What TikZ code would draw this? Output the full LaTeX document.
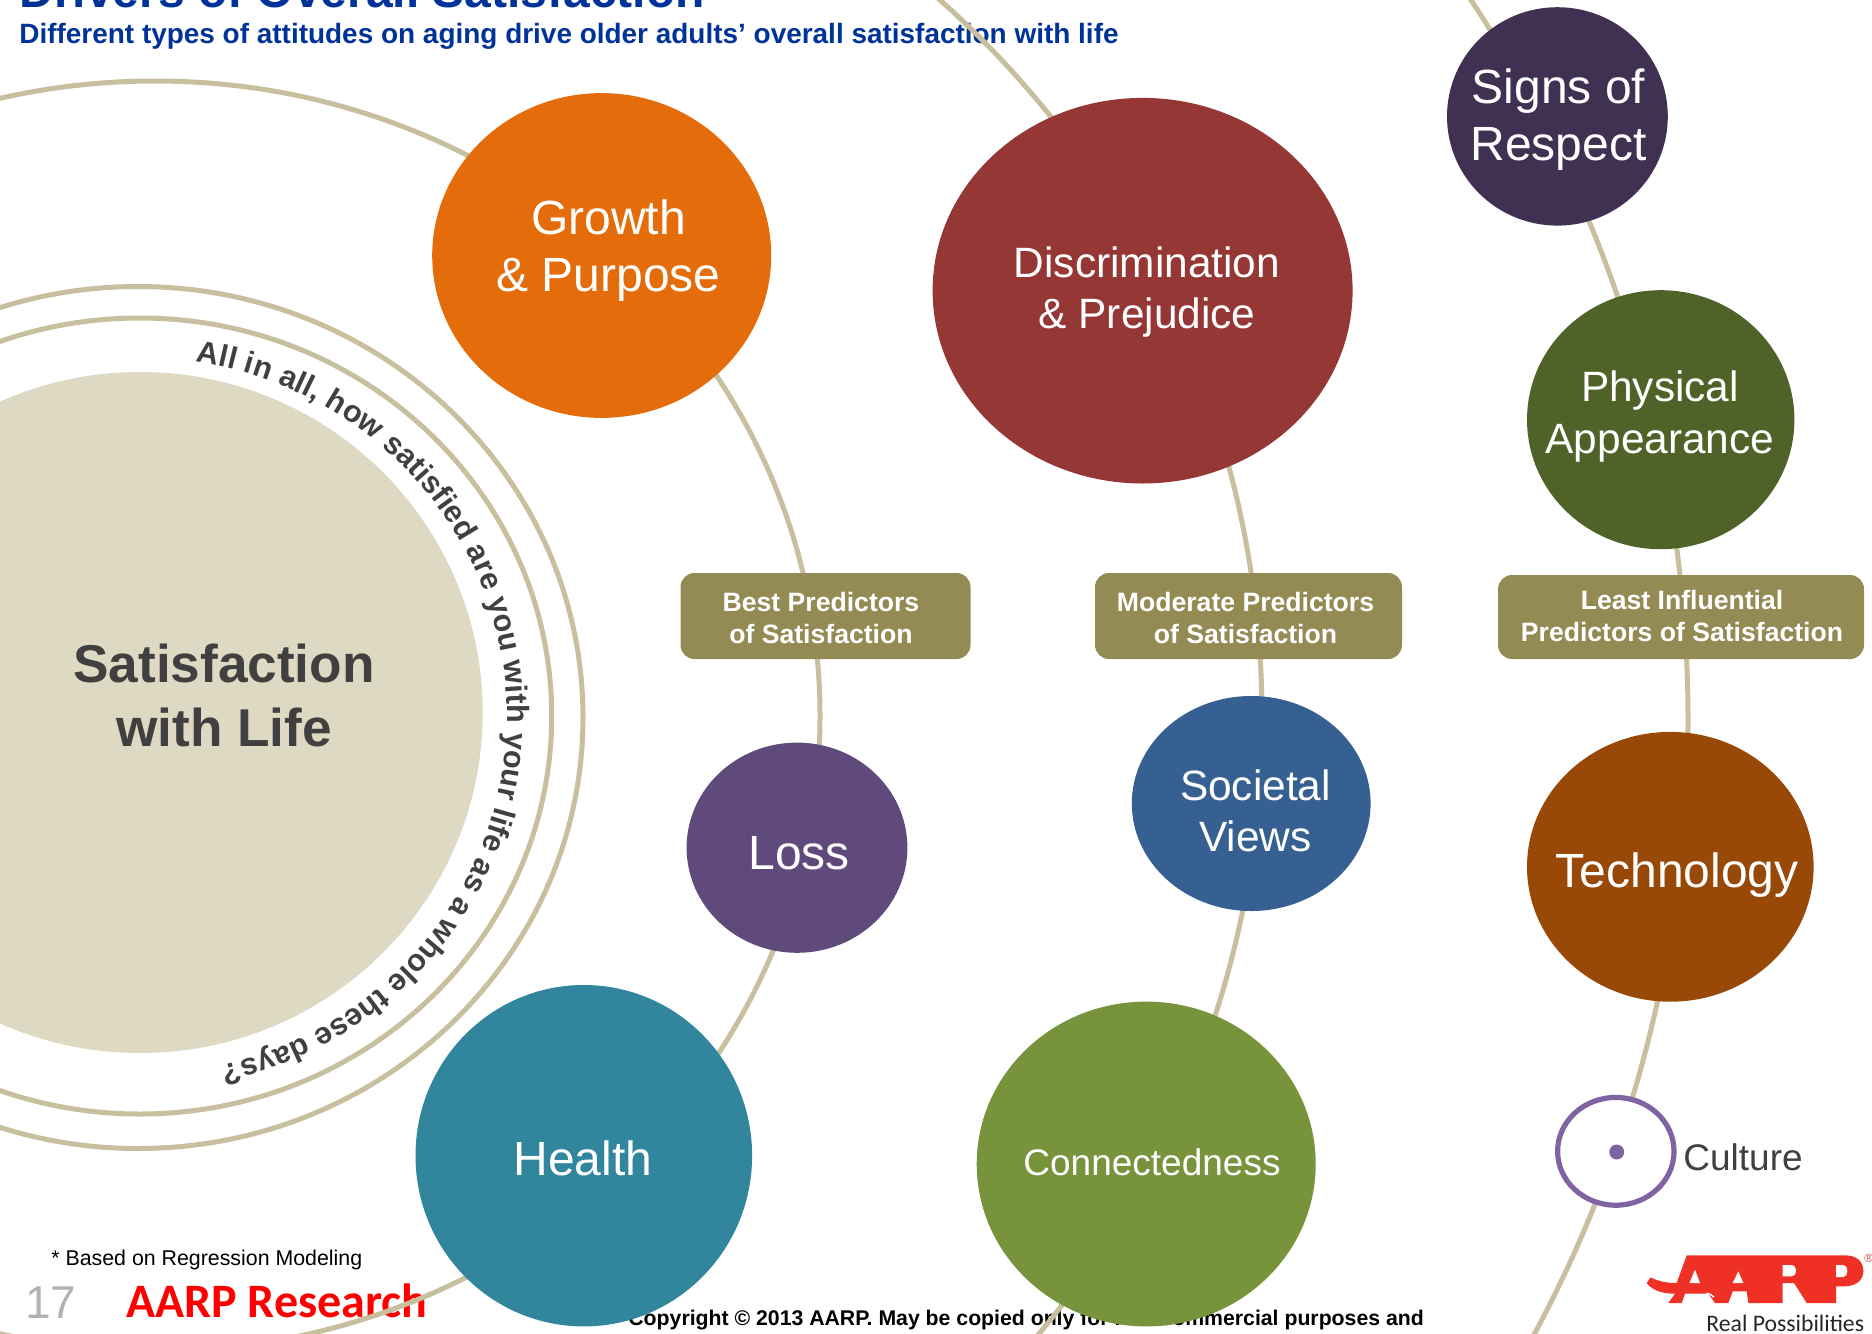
\documentclass[tikz,border=0pt]{standalone}
\usepackage{fontspec}
\setmainfont{Liberation Sans}
\newfontfamily\carl{Carlito}
\usetikzlibrary{shapes.geometric,decorations.text}
\definecolor{ringc}{HTML}{C7BF9D}
\definecolor{innerc}{HTML}{DDD9C3}
\definecolor{boxc}{HTML}{948A54}
\definecolor{inkc}{HTML}{404040}
\definecolor{titlec}{HTML}{003399}
\definecolor{logoc}{HTML}{EE3124}
\definecolor{culturec}{HTML}{8064A2}
\newcommand{\fsz}[2]{\fontsize{#1}{#2}\selectfont}
\tikzset{
  ell/.style={ellipse,inner sep=0pt,outer sep=0pt},
  ring/.style={ell,draw=ringc,line width=2.5pt},
  blob/.style={ell},
  wtext/.style={text=white,align=center,inner sep=0pt},
  boxrect/.style={rectangle,rounded corners=7pt,fill=boxc,inner sep=0pt,outer sep=0pt},
  boxtext/.style={text=white,align=center,inner sep=0pt,font=\bfseries\fsz{13.3}{16}},
  plain/.style={inner sep=0pt,anchor=base west},
}
\begin{document}
\begin{tikzpicture}[x=0.5pt,y=-0.5pt]
\useasboundingbox (0,0) rectangle (1872,1333);
\fill[white] (0,0) rectangle (1872,1333);
\clip (0,0) rectangle (1872,1333);
% texts under the lines and circles
\node[plain,text=titlec,font=\bfseries\fsz{24}{28}] (title) at (19,7.5) {Drivers of Overall Satisfaction};
\node[plain,text=titlec,font=\bfseries\fsz{13.97}{16}] (subtitle) at (19,43.5) {Different types of attitudes on aging drive older adults’ overall satisfaction with life};
\node[plain,text=black,font=\fsz{10.67}{12}] (note) at (51,1265) {* Based on Regression Modeling};
\node[plain,text=black!30,font=\fsz{23}{26}] (page) at (25,1318) {17};
\node[plain,text=red,font=\carl\bfseries\fsz{24}{28}] (research) at (126,1317) {AARP Research};
\node[plain,text=black,font=\bfseries\fsz{10.62}{12}] (copy) at (628,1325.5) {Copyright © 2013 AARP. May be copied only for non-commercial purposes and};
% big arcs
\node[ring,minimum width=665pt,minimum height=635pt] (arcA) at (155,716) {};
\node[ring,minimum width=958pt,minimum height=960pt] (arcB) at (304,718) {};
\node[ring,minimum width=1298pt,minimum height=1300pt] (arcC) at (390,720) {};
% centre
\node[ring,minimum width=445pt,minimum height=431pt] (ringO) at (138,717.5) {};
\node[ring,minimum width=412pt,minimum height=398pt] (ringI) at (139.7,716) {};
\node[ell,fill=innerc,minimum width=342.7pt,minimum height=340.5pt] (core) at (140,712.5) {};
\node[text=inkc,align=center,inner sep=0pt,font=\bfseries\fsz{26.6}{31.7}] (coreT) at (224,695.5) {Satisfaction\\with Life};
\coordinate (sweepstart) at ({138+369*cos(81)},{716-359*sin(81)});
\path[decorate,decoration={text along path,text align={fit to path},
  text={|\bfseries\fsz{15.3}{18}\color{inkc}|All in all, how satisfied are you with your life as a whole these days?}}]
  (sweepstart) arc[start angle=81,end angle=-77,x radius=184.5pt,y radius=179.5pt];
% circles
\node[blob,fill={rgb,255:red,228;green,108;blue,10},minimum width=169.5pt,minimum height=162.4pt] (growth) at (601.7,255.5) {};
\node[blob,fill={rgb,255:red,149;green,55;blue,53},minimum width=210pt,minimum height=192.8pt] (discr) at (1142.6,290.7) {};
\node[blob,fill={rgb,255:red,64;green,49;blue,82},minimum width=110.4pt,minimum height=109.2pt] (signs) at (1557.4,116.4) {};
\node[blob,fill={rgb,255:red,79;green,98;blue,40},minimum width=133.7pt,minimum height=129.5pt] (phys) at (1660.7,419.7) {};
\node[blob,fill={rgb,255:red,152;green,72;blue,7},minimum width=143.3pt,minimum height=134.9pt] (tech) at (1670.3,866.8) {};
\node[blob,fill={rgb,255:red,54;green,96;blue,146},minimum width=119.4pt,minimum height=107.5pt] (soc) at (1251.2,803.5) {};
\node[blob,fill={rgb,255:red,96;green,74;blue,123},minimum width=110.4pt,minimum height=105.1pt] (loss) at (797,847.7) {};
\node[blob,fill={rgb,255:red,49;green,133;blue,156},minimum width=168.3pt,minimum height=170.7pt] (health) at (583.8,1155.7) {};
\node[blob,fill={rgb,255:red,119;green,147;blue,60},minimum width=169.5pt,minimum height=162.4pt] (conn) at (1146.2,1164) {};
\node[wtext,font=\fsz{24}{28.8}] (growthT) at (608.5,250.5) {Growth\\\& Purpose};
\node[wtext,font=\fsz{21.2}{25.5}] (discrT) at (1147,292.5) {Discrimination\\\& Prejudice};
\node[wtext,font=\fsz{24}{28.8}] (signsT) at (1558.5,119.5) {Signs of\\Respect};
\node[wtext,font=\fsz{21.2}{26}] (physT) at (1660,417) {Physical\\Appearance};
\node[wtext,font=\fsz{24}{28}] (techT) at (1677,875.5) {Technology};
\node[wtext,font=\fsz{21.2}{25.5}] (socT) at (1255.5,811) {Societal\\Views};
\node[wtext,font=\fsz{24}{28.8}] (lossT) at (799,853) {Loss};
\node[wtext,font=\fsz{24}{28.8}] (healthT) at (583,1158) {Health};
\node[wtext,font=\fsz{18.5}{22}] (connT) at (1152,1162) {Connectedness};
% culture
\node[ell,fill=white,draw=culturec,line width=2.6pt,minimum width=58.2pt,minimum height=53.9pt] (culture) at (1615.8,1151.3) {};
\node[ell,fill=culturec,minimum width=7.5pt,minimum height=7.5pt] (cdot) at (1616.7,1152) {};
\node[plain,text=inkc,font=\fsz{18.5}{22}] (cultureT) at (1683,1170.5) {Culture};
% predictor boxes
\node[boxrect,minimum width=145pt,minimum height=43pt] (boxA) at (825.5,616) {};
\node[boxrect,minimum width=153.5pt,minimum height=43pt] (boxB) at (1248.5,616) {};
\node[boxrect,minimum width=183pt,minimum height=42pt] (boxC) at (1681,617) {};
\node[boxtext] (boxAT) at (821,618) {Best Predictors\\of Satisfaction};
\node[boxtext] (boxBT) at (1245.5,618) {Moderate Predictors\\of Satisfaction};
\node[boxtext] (boxCT) at (1682,616) {Least Influential\\Predictors of Satisfaction};
% logo, drawn in units of a third of a pixel from its corner
\begin{scope}[shift={(1640,1245)},x=0.16667pt,y=-0.16667pt]
\fill[logoc] (20,114) -- (32,97) .. controls (55,110) and (85,114) .. (110,114) -- (140,31) -- (615,31)
  .. controls (650,31) and (670,50) .. (670,78) .. controls (670,108) and (645,124) .. (612,124)
  -- (588,124) -- (588,174) -- (500,174) -- (462,114) -- (428,114) -- (428,174) -- (325,174)
  -- (320,139) -- (278,139) -- (265,174) -- (225,174) -- (205,146) -- (135,146) -- (125,174)
  -- (85,174) -- (105,146) .. controls (75,146) and (40,140) .. (20,114) -- cycle;
\fill[white] (165,74) -- (180,114) -- (148,114) -- cycle;
\fill[white] (295,79) -- (310,114) -- (278,114) -- cycle;
\fill[white] (428,60) -- (456,60) .. controls (472,60) and (472,94) .. (456,94) -- (428,94) -- cycle;
\fill[white] (588,60) -- (610,60) .. controls (626,60) and (626,96) .. (610,96) -- (588,96) -- cycle;
\draw[white,line width=0.7pt] (200,144) .. controls (208,146) and (216,150) .. (222,156);
\end{scope}
\node[plain,text=logoc!70!gray,font=\fsz{6}{7}] (reg) at (1864,1262) {®};
\node[plain,text=black!85,font=\carl\fsz{11.85}{13}] (tagline) at (1706,1331) {Real Possibilities};
\end{tikzpicture}
\end{document}
